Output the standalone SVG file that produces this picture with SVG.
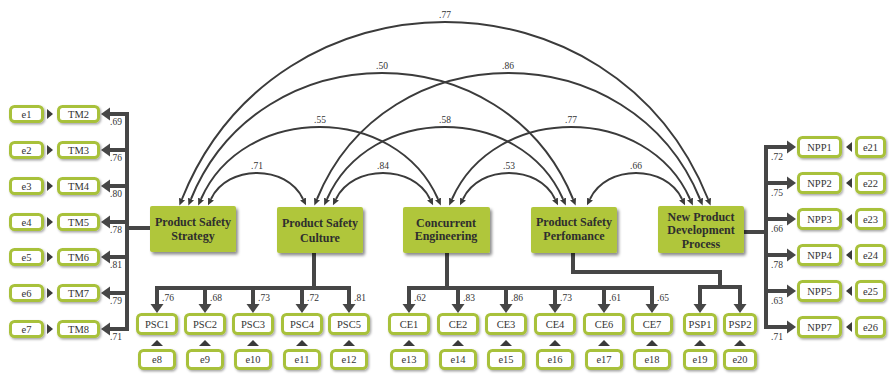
<svg xmlns="http://www.w3.org/2000/svg" width="889" height="374" viewBox="0 0 889 374">
  <defs>
    <style>
      text { font-family: "Liberation Serif", "DejaVu Serif", "Noto Serif", serif; }
      .lat rect { fill: #b0c63a; filter: url(#shadow); }
      .lat text { font-weight: bold; font-size: 12px; fill: #2e2e2e; text-anchor: middle; }
      .ind rect { fill: #ffffff; stroke: #a8c13a; stroke-width: 3; filter: url(#shadowSm); }
      .ind text { font-size: 10.5px; fill: #333333; text-anchor: middle; }
      .arc { fill: none; stroke: #3b3b3b; stroke-width: 2; marker-start: url(#arcHead); marker-end: url(#arcHead); }
      .bus { fill: none; stroke: #464646; stroke-width: 4; stroke-linecap: square; }
      .load { fill: none; stroke: #464646; stroke-width: 4; marker-end: url(#busHead); }
      .tri { fill: #3a3a3a; }
      .coef { font-size: 9.5px; fill: #333333; }
      .mid { text-anchor: middle; }
    </style>
    <filter id="shadow" x="-20%" y="-20%" width="150%" height="160%">
      <feDropShadow dx="2" dy="2.5" stdDeviation="1.6" flood-color="#000000" flood-opacity="0.45"/>
    </filter>
    <filter id="shadowSm" x="-20%" y="-30%" width="150%" height="170%">
      <feDropShadow dx="1.2" dy="1.5" stdDeviation="1" flood-color="#000000" flood-opacity="0.35"/>
    </filter>
    <marker id="arcHead" viewBox="0 -3.5 7 7" refX="0" refY="0" markerWidth="7" markerHeight="7" markerUnits="userSpaceOnUse" orient="auto-start-reverse">
      <path d="M0,-3.2 L7,0 L0,3.2 z" fill="#3b3b3b"/>
    </marker>
    <marker id="busHead" viewBox="0 -7 9 14" refX="0" refY="0" markerWidth="9" markerHeight="14" markerUnits="userSpaceOnUse" orient="auto">
      <path d="M0,-6.5 L9,0 L0,6.5 z" fill="#464646"/>
    </marker>
  </defs>

  <rect width="889" height="374" fill="#ffffff"/>

  <!-- connectors: correlations, loadings and error links -->
  <g id="connectors">
    <!-- correlation arcs between latent factors -->
    <path class="arc" d="M182,199 C276.7,-37 613.3,-37 708,199"/>
    <path class="arc" d="M191,199 C259.8,31 504.2,31 573,199"/>
    <path class="arc" d="M317,199 C386,31 631,31 700,199"/>
    <path class="arc" d="M201,199 C243.7,103 395.3,103 438,199"/>
    <path class="arc" d="M327,199 C369.5,103 520.5,103 563,199"/>
    <path class="arc" d="M452,199 C494.8,103 647.2,103 690,199"/>
    <path class="arc" d="M211,199 C227.6,164.3 286.4,164.3 303,199"/>
    <path class="arc" d="M336,199 C353,164.3 413,164.3 430,199"/>
    <path class="arc" d="M463,199 C479.6,164.3 538.4,164.3 555,199"/>
    <path class="arc" d="M590,199 C606.6,164.3 665.4,164.3 682,199"/>

    <!-- Product Safety Strategy loadings -->
    <path class="bus" d="M127,114 V329 M127,228 H148"/>
    <path class="load" d="M127,114 H110"/>
    <path class="load" d="M127,150 H110"/>
    <path class="load" d="M127,186 H110"/>
    <path class="load" d="M127,222 H110"/>
    <path class="load" d="M127,257 H110"/>
    <path class="load" d="M127,293 H110"/>
    <path class="load" d="M127,329 H110"/>

    <!-- Product Safety Culture loadings -->
    <path class="bus" d="M314,254 V288 M157,288 H349"/>
    <path class="load" d="M157,288 V304"/>
    <path class="load" d="M205,288 V304"/>
    <path class="load" d="M253,288 V304"/>
    <path class="load" d="M302,288 V304"/>
    <path class="load" d="M349,288 V304"/>

    <!-- Concurrent Engineering loadings -->
    <path class="bus" d="M447,254 V288 M409,288 H652"/>
    <path class="load" d="M409,288 V304"/>
    <path class="load" d="M458,288 V304"/>
    <path class="load" d="M506,288 V304"/>
    <path class="load" d="M555,288 V304"/>
    <path class="load" d="M604,288 V304"/>
    <path class="load" d="M652,288 V304"/>

    <!-- Product Safety Performance loadings -->
    <path class="bus" d="M573,254 V272 H720 V287 M700,287 H740"/>
    <path class="load" d="M700,287 V304"/>
    <path class="load" d="M740,287 V304"/>

    <!-- New Product Development Process loadings -->
    <path class="bus" d="M766,147 V327 M746,232 H766"/>
    <path class="load" d="M766,147 H787"/>
    <path class="load" d="M766,183 H787"/>
    <path class="load" d="M766,219 H787"/>
    <path class="load" d="M766,255 H787"/>
    <path class="load" d="M766,291 H787"/>
    <path class="load" d="M766,327 H787"/>

    <!-- error terms pointing at indicators -->
    <polygon class="tri" points="47,109 53,114 47,119"/>
    <polygon class="tri" points="47,145 53,150 47,155"/>
    <polygon class="tri" points="47,181 53,186 47,191"/>
    <polygon class="tri" points="47,217 53,222 47,227"/>
    <polygon class="tri" points="47,252 53,257 47,262"/>
    <polygon class="tri" points="47,288 53,293 47,298"/>
    <polygon class="tri" points="47,324 53,329 47,334"/>

    <polygon class="tri" points="151,346 157,340 163,346"/>
    <polygon class="tri" points="199,346 205,340 211,346"/>
    <polygon class="tri" points="247,346 253,340 259,346"/>
    <polygon class="tri" points="296,346 302,340 308,346"/>
    <polygon class="tri" points="343,346 349,340 355,346"/>
    <polygon class="tri" points="403,346 409,340 415,346"/>
    <polygon class="tri" points="452,346 458,340 464,346"/>
    <polygon class="tri" points="500,346 506,340 512,346"/>
    <polygon class="tri" points="549,346 555,340 561,346"/>
    <polygon class="tri" points="598,346 604,340 610,346"/>
    <polygon class="tri" points="646,346 652,340 658,346"/>
    <polygon class="tri" points="694,346 700,340 706,346"/>
    <polygon class="tri" points="734,346 740,340 746,346"/>

    <polygon class="tri" points="852,142 846,147 852,152"/>
    <polygon class="tri" points="852,178 846,183 852,188"/>
    <polygon class="tri" points="852,214 846,219 852,224"/>
    <polygon class="tri" points="852,250 846,255 852,260"/>
    <polygon class="tri" points="852,286 846,291 852,296"/>
    <polygon class="tri" points="852,322 846,327 852,332"/>

    <!-- correlation values -->
    <text class="coef mid" x="445" y="18">.77</text>
    <text class="coef mid" x="382" y="69">.50</text>
    <text class="coef mid" x="508" y="69">.86</text>
    <text class="coef mid" x="320" y="123">.55</text>
    <text class="coef mid" x="445" y="123">.58</text>
    <text class="coef mid" x="571" y="123">.77</text>
    <text class="coef mid" x="257" y="169">.71</text>
    <text class="coef mid" x="383" y="169">.84</text>
    <text class="coef mid" x="509" y="169">.53</text>
    <text class="coef mid" x="636" y="169">.66</text>

    <!-- loading values -->
    <text class="coef" x="110" y="125">.69</text>
    <text class="coef" x="110" y="161">.76</text>
    <text class="coef" x="110" y="197">.80</text>
    <text class="coef" x="110" y="233">.78</text>
    <text class="coef" x="110" y="268">.81</text>
    <text class="coef" x="110" y="304">.79</text>
    <text class="coef" x="110" y="340">.71</text>

    <text class="coef" x="162" y="301">.76</text>
    <text class="coef" x="210" y="301">.68</text>
    <text class="coef" x="258" y="301">.73</text>
    <text class="coef" x="307" y="301">.72</text>
    <text class="coef" x="354" y="301">.81</text>

    <text class="coef" x="414" y="301">.62</text>
    <text class="coef" x="463" y="301">.83</text>
    <text class="coef" x="511" y="301">.86</text>
    <text class="coef" x="560" y="301">.73</text>
    <text class="coef" x="609" y="301">.61</text>
    <text class="coef" x="657" y="301">.65</text>

    <text class="coef" x="771" y="160">.72</text>
    <text class="coef" x="771" y="196">.75</text>
    <text class="coef" x="771" y="232">.66</text>
    <text class="coef" x="771" y="268">.78</text>
    <text class="coef" x="771" y="304">.63</text>
    <text class="coef" x="771" y="340">.71</text>
  </g>

  <!-- latent factors -->
  <g id="pss" class="lat">
    <rect x="150" y="206" width="86" height="46" rx="2"/>
    <text x="193" y="226">Product Safety</text>
    <text x="193" y="240">Strategy</text>
  </g>
  <g id="psc" class="lat">
    <rect x="277" y="207" width="86" height="46" rx="2"/>
    <text x="320" y="227">Product Safety</text>
    <text x="320" y="242">Culture</text>
  </g>
  <g id="ce" class="lat">
    <rect x="403" y="207" width="87" height="46" rx="2"/>
    <text x="446" y="226.5">Concurrent</text>
    <text x="446" y="240">Engineering</text>
  </g>
  <g id="psp" class="lat">
    <rect x="531" y="207" width="86" height="46" rx="2"/>
    <text x="574" y="226">Product Safety</text>
    <text x="574" y="240">Perfomance</text>
  </g>
  <g id="npd" class="lat">
    <rect x="658" y="206" width="86" height="47" rx="2"/>
    <text x="701" y="221">New Product</text>
    <text x="701" y="234">Development</text>
    <text x="701" y="247.5">Process</text>
  </g>

  <!-- Product Safety Strategy indicators and errors -->
  <g id="e1" class="ind"><rect x="10.5" y="106.5" width="32" height="15" rx="4"/><text x="26.5" y="117.5">e1</text></g>
  <g id="tm2" class="ind"><rect x="58.5" y="106.5" width="40" height="15" rx="4"/><text x="78.5" y="117.5">TM2</text></g>
  <g id="e2" class="ind"><rect x="10.5" y="142.5" width="32" height="15" rx="4"/><text x="26.5" y="153.5">e2</text></g>
  <g id="tm3" class="ind"><rect x="58.5" y="142.5" width="40" height="15" rx="4"/><text x="78.5" y="153.5">TM3</text></g>
  <g id="e3" class="ind"><rect x="10.5" y="178.5" width="32" height="15" rx="4"/><text x="26.5" y="189.5">e3</text></g>
  <g id="tm4" class="ind"><rect x="58.5" y="178.5" width="40" height="15" rx="4"/><text x="78.5" y="189.5">TM4</text></g>
  <g id="e4" class="ind"><rect x="10.5" y="214.5" width="32" height="15" rx="4"/><text x="26.5" y="225.5">e4</text></g>
  <g id="tm5" class="ind"><rect x="58.5" y="214.5" width="40" height="15" rx="4"/><text x="78.5" y="225.5">TM5</text></g>
  <g id="e5" class="ind"><rect x="10.5" y="249.5" width="32" height="15" rx="4"/><text x="26.5" y="260.5">e5</text></g>
  <g id="tm6" class="ind"><rect x="58.5" y="249.5" width="40" height="15" rx="4"/><text x="78.5" y="260.5">TM6</text></g>
  <g id="e6" class="ind"><rect x="10.5" y="285.5" width="32" height="15" rx="4"/><text x="26.5" y="296.5">e6</text></g>
  <g id="tm7" class="ind"><rect x="58.5" y="285.5" width="40" height="15" rx="4"/><text x="78.5" y="296.5">TM7</text></g>
  <g id="e7" class="ind"><rect x="10.5" y="321.5" width="32" height="15" rx="4"/><text x="26.5" y="332.5">e7</text></g>
  <g id="tm8" class="ind"><rect x="58.5" y="321.5" width="40" height="15" rx="4"/><text x="78.5" y="332.5">TM8</text></g>

  <!-- Product Safety Culture indicators and errors -->
  <g id="psc1" class="ind"><rect x="137.5" y="314.5" width="39" height="19" rx="4"/><text x="157" y="327.5">PSC1</text></g>
  <g id="psc2" class="ind"><rect x="185.5" y="314.5" width="39" height="19" rx="4"/><text x="205" y="327.5">PSC2</text></g>
  <g id="psc3" class="ind"><rect x="233.5" y="314.5" width="39" height="19" rx="4"/><text x="253" y="327.5">PSC3</text></g>
  <g id="psc4" class="ind"><rect x="282.5" y="314.5" width="39" height="19" rx="4"/><text x="302" y="327.5">PSC4</text></g>
  <g id="psc5" class="ind"><rect x="329.5" y="314.5" width="39" height="19" rx="4"/><text x="349" y="327.5">PSC5</text></g>
  <g id="e8" class="ind"><rect x="139.5" y="350.5" width="35" height="18" rx="4"/><text x="157" y="363">e8</text></g>
  <g id="e9" class="ind"><rect x="187.5" y="350.5" width="35" height="18" rx="4"/><text x="205" y="363">e9</text></g>
  <g id="e10" class="ind"><rect x="235.5" y="350.5" width="35" height="18" rx="4"/><text x="253" y="363">e10</text></g>
  <g id="e11" class="ind"><rect x="284.5" y="350.5" width="35" height="18" rx="4"/><text x="302" y="363">e11</text></g>
  <g id="e12" class="ind"><rect x="331.5" y="350.5" width="35" height="18" rx="4"/><text x="349" y="363">e12</text></g>

  <!-- Concurrent Engineering indicators and errors -->
  <g id="ce1" class="ind"><rect x="389.5" y="314.5" width="39" height="19" rx="4"/><text x="409" y="327.5">CE1</text></g>
  <g id="ce2" class="ind"><rect x="438.5" y="314.5" width="39" height="19" rx="4"/><text x="458" y="327.5">CE2</text></g>
  <g id="ce3" class="ind"><rect x="486.5" y="314.5" width="39" height="19" rx="4"/><text x="506" y="327.5">CE3</text></g>
  <g id="ce4" class="ind"><rect x="535.5" y="314.5" width="39" height="19" rx="4"/><text x="555" y="327.5">CE4</text></g>
  <g id="ce6" class="ind"><rect x="584.5" y="314.5" width="39" height="19" rx="4"/><text x="604" y="327.5">CE6</text></g>
  <g id="ce7" class="ind"><rect x="632.5" y="314.5" width="39" height="19" rx="4"/><text x="652" y="327.5">CE7</text></g>
  <g id="e13" class="ind"><rect x="391.5" y="350.5" width="35" height="18" rx="4"/><text x="409" y="363">e13</text></g>
  <g id="e14" class="ind"><rect x="440.5" y="350.5" width="35" height="18" rx="4"/><text x="458" y="363">e14</text></g>
  <g id="e15" class="ind"><rect x="488.5" y="350.5" width="35" height="18" rx="4"/><text x="506" y="363">e15</text></g>
  <g id="e16" class="ind"><rect x="537.5" y="350.5" width="35" height="18" rx="4"/><text x="555" y="363">e16</text></g>
  <g id="e17" class="ind"><rect x="586.5" y="350.5" width="35" height="18" rx="4"/><text x="604" y="363">e17</text></g>
  <g id="e18" class="ind"><rect x="634.5" y="350.5" width="35" height="18" rx="4"/><text x="652" y="363">e18</text></g>

  <!-- Product Safety Performance indicators and errors -->
  <g id="psp1" class="ind"><rect x="684.5" y="314.5" width="31" height="19" rx="4"/><text x="700" y="327.5">PSP1</text></g>
  <g id="psp2" class="ind"><rect x="724.5" y="314.5" width="31" height="19" rx="4"/><text x="740" y="327.5">PSP2</text></g>
  <g id="e19" class="ind"><rect x="684.5" y="350.5" width="31" height="18" rx="4"/><text x="700" y="363">e19</text></g>
  <g id="e20" class="ind"><rect x="724.5" y="350.5" width="31" height="18" rx="4"/><text x="740" y="363">e20</text></g>

  <!-- New Product Development Process indicators and errors -->
  <g id="npp1" class="ind"><rect x="798.5" y="137.5" width="42" height="19" rx="4"/><text x="819.5" y="150.5">NPP1</text></g>
  <g id="npp2" class="ind"><rect x="798.5" y="173.5" width="42" height="19" rx="4"/><text x="819.5" y="186.5">NPP2</text></g>
  <g id="npp3" class="ind"><rect x="798.5" y="209.5" width="42" height="19" rx="4"/><text x="819.5" y="222.5">NPP3</text></g>
  <g id="npp4" class="ind"><rect x="798.5" y="245.5" width="42" height="19" rx="4"/><text x="819.5" y="258.5">NPP4</text></g>
  <g id="npp5" class="ind"><rect x="798.5" y="281.5" width="42" height="19" rx="4"/><text x="819.5" y="294.5">NPP5</text></g>
  <g id="npp7" class="ind"><rect x="798.5" y="317.5" width="42" height="19" rx="4"/><text x="819.5" y="330.5">NPP7</text></g>
  <g id="e21" class="ind"><rect x="856.5" y="137.5" width="28" height="19" rx="4"/><text x="870.5" y="150.5">e21</text></g>
  <g id="e22" class="ind"><rect x="856.5" y="173.5" width="28" height="19" rx="4"/><text x="870.5" y="186.5">e22</text></g>
  <g id="e23" class="ind"><rect x="856.5" y="209.5" width="28" height="19" rx="4"/><text x="870.5" y="222.5">e23</text></g>
  <g id="e24" class="ind"><rect x="856.5" y="245.5" width="28" height="19" rx="4"/><text x="870.5" y="258.5">e24</text></g>
  <g id="e25" class="ind"><rect x="856.5" y="281.5" width="28" height="19" rx="4"/><text x="870.5" y="294.5">e25</text></g>
  <g id="e26" class="ind"><rect x="856.5" y="317.5" width="28" height="19" rx="4"/><text x="870.5" y="330.5">e26</text></g>
</svg>
